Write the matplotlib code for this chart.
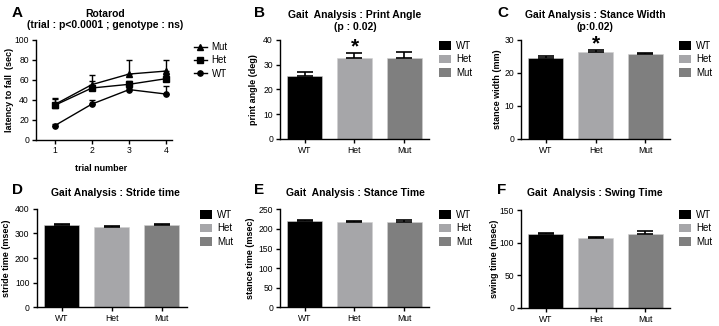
import numpy as np
import matplotlib
matplotlib.use("Agg")
import matplotlib.pyplot as plt
from matplotlib.patches import Patch
from matplotlib.lines import Line2D

plt.rcParams['font.family'] = ['Liberation Sans', 'DejaVu Sans']

W, H = 719, 326

# rotarod data
trials = [1, 2, 3, 4]
rot_mut = [35, 55, 65.6, 68.6]
rot_mut_err = [7, 9.3, 14.4, 11.4]
rot_het = [34.2, 51.6, 55.3, 61]
rot_het_err = [6.4, 7, 3, 4]
rot_wt = [13.8, 35.5, 50, 45.5]
rot_wt_err = [1.5, 4.5, 2, 8.5]

# gait data
groups = ['WT', 'Het', 'Mut']
print_angle = [25.4, 32.7, 32.5]
print_angle_err = [1.7, 1.8, 2.5]
stance_width = [24.6, 26.4, 25.6]
stance_width_err = [0.4, 0.4, 0.5]
stride_time = [333, 324, 333]
stride_time_err = [4, 5, 3]
stance_time = [221, 217, 218.5]
stance_time_err = [2.5, 3, 3.5]
swing_time = [112.8, 106.6, 113.8]
swing_time_err = [1.7, 2.1, 4.1]

bar_colors = ['#000000', '#a6a6a9', '#7f7f7f']


def px(l, t, r, b):
    return [l / W, 1 - b / H, (r - l) / W, (b - t) / H]


def style(ax):
    for s in ['top', 'right']:
        ax.spines[s].set_visible(False)
    for s in ['left', 'bottom']:
        ax.spines[s].set_linewidth(1.0)
    ax.tick_params(direction='out', length=3, width=1.0, labelsize=6.2, pad=2)


def bar_panel(ax, vals, errs, ymax, ystep, ylabel, lab_x, leg_xy):
    x = np.arange(len(groups))
    ax.bar(x, vals, width=0.7, color=bar_colors, edgecolor='#d0d0d0', linewidth=0.4)
    ax.errorbar(x, vals, yerr=[np.zeros(len(errs)), errs], fmt='none',
                ecolor='black', elinewidth=1.2, capsize=5.5, capthick=1.2)
    ax.set_xlim(-0.5, 2.5)
    ax.set_ylim(0, ymax)
    ax.set_yticks(np.arange(0, ymax + 1, ystep))
    ax.set_xticks(x)
    ax.set_xticklabels(groups)
    ax.set_ylabel(ylabel, fontsize=6.5, fontweight='bold')
    ax.yaxis.set_label_coords(lab_x, 0.5)
    style(ax)
    handles = [Patch(facecolor=c, edgecolor='none') for c in bar_colors]
    fig.legend(handles, groups, loc='upper left',
               bbox_to_anchor=(leg_xy[0] / W, 1 - leg_xy[1] / H),
               frameon=False, fontsize=7, handlelength=1.25, handleheight=0.95,
               handletextpad=0.5, labelspacing=0.35, borderpad=0, borderaxespad=0)


fig = plt.figure(figsize=(W / 100, H / 100), dpi=100)

# A: rotarod
axA = fig.add_axes(px(36, 39.7, 172, 139.5))
for vals, errs, m, lab in [(rot_mut, rot_mut_err, '^', 'Mut'),
                           (rot_het, rot_het_err, 's', 'Het'),
                           (rot_wt, rot_wt_err, 'o', 'WT')]:
    axA.errorbar(trials, vals, yerr=[np.zeros(4), errs], color='black',
                 marker=m, markersize=3.8, linewidth=1.0, elinewidth=1.0,
                 capsize=2.5, capthick=1.0, label=lab)
axA.set_xlim(0.5, 4.15)
axA.set_ylim(0, 100)
axA.set_yticks([0, 20, 40, 60, 80, 100])
axA.set_xticks(trials)
axA.set_ylabel('latency to fall  (sec)', fontsize=6.5, fontweight='bold')
axA.yaxis.set_label_coords(-0.165, 0.5)
axA.set_xlabel('trial number', fontsize=6.5, fontweight='bold')
axA.xaxis.set_label_coords(0.48, -0.25)
style(axA)
handlesA = [Line2D([], [], color='black', marker=m, markersize=3.8, linewidth=1.0)
            for m in ['^', 's', 'o']]
fig.legend(handlesA, ['Mut', 'Het', 'WT'], loc='upper left',
           bbox_to_anchor=(194 / W, 1 - 42 / H), frameon=False, fontsize=7,
           handlelength=1.3, handletextpad=0.5, labelspacing=0.35,
           borderpad=0, borderaxespad=0)

# B
axB = fig.add_axes(px(280, 39.7, 429, 139))
bar_panel(axB, print_angle, print_angle_err, 40, 10, 'print angle (deg)', -0.15, (439, 41))
axB.text(1, 37.3, '*', ha='center', va='center', fontsize=15, fontweight='bold')

# C
axC = fig.add_axes(px(521, 39.7, 670, 139))
bar_panel(axC, stance_width, stance_width_err, 30, 10, 'stance width (mm)', -0.13, (679, 41))
axC.text(1, 28.6, '*', ha='center', va='center', fontsize=15, fontweight='bold')

# D
axD = fig.add_axes(px(36.5, 208.7, 186.5, 307.3))
bar_panel(axD, stride_time, stride_time_err, 400, 100, 'stride time (msec)', -0.17, (200, 210))

# E
axE = fig.add_axes(px(280, 209.3, 429, 307.3))
bar_panel(axE, stance_time, stance_time_err, 250, 50, 'stance time (msec)', -0.17, (439, 210))

# F
axF = fig.add_axes(px(521, 210, 670, 307.7))
bar_panel(axF, swing_time, swing_time_err, 150, 50, 'swing time (msec)', -0.15, (679, 210))

# panel letters
for lab, x, y in [('A', 12, 13), ('B', 254, 13), ('C', 497, 13),
                  ('D', 12, 190), ('E', 254, 190), ('F', 497, 190)]:
    fig.text(x / W, 1 - y / H, lab, fontsize=11, fontweight='bold', va='center', ha='left')

# titles
titles = [('Rotarod', 105, 14), ('(trial : p<0.0001 ; genotype : ns)', 105, 25),
          ('Gait  Analysis : Print Angle', 355, 15), ('(p : 0.02)', 355, 27),
          ('Gait Analysis : Stance Width', 595, 15), ('(p:0.02)', 595, 27),
          ('Gait Analysis : Stride time', 115, 193),
          ('Gait  Analysis : Stance Time', 355, 193),
          ('Gait  Analysis : Swing Time', 595, 193)]
for t, x, y in titles:
    fig.text(x / W, 1 - y / H, t, fontsize=7.5, fontweight='bold', ha='center', va='center')

fig.savefig('out.png', dpi=100)
